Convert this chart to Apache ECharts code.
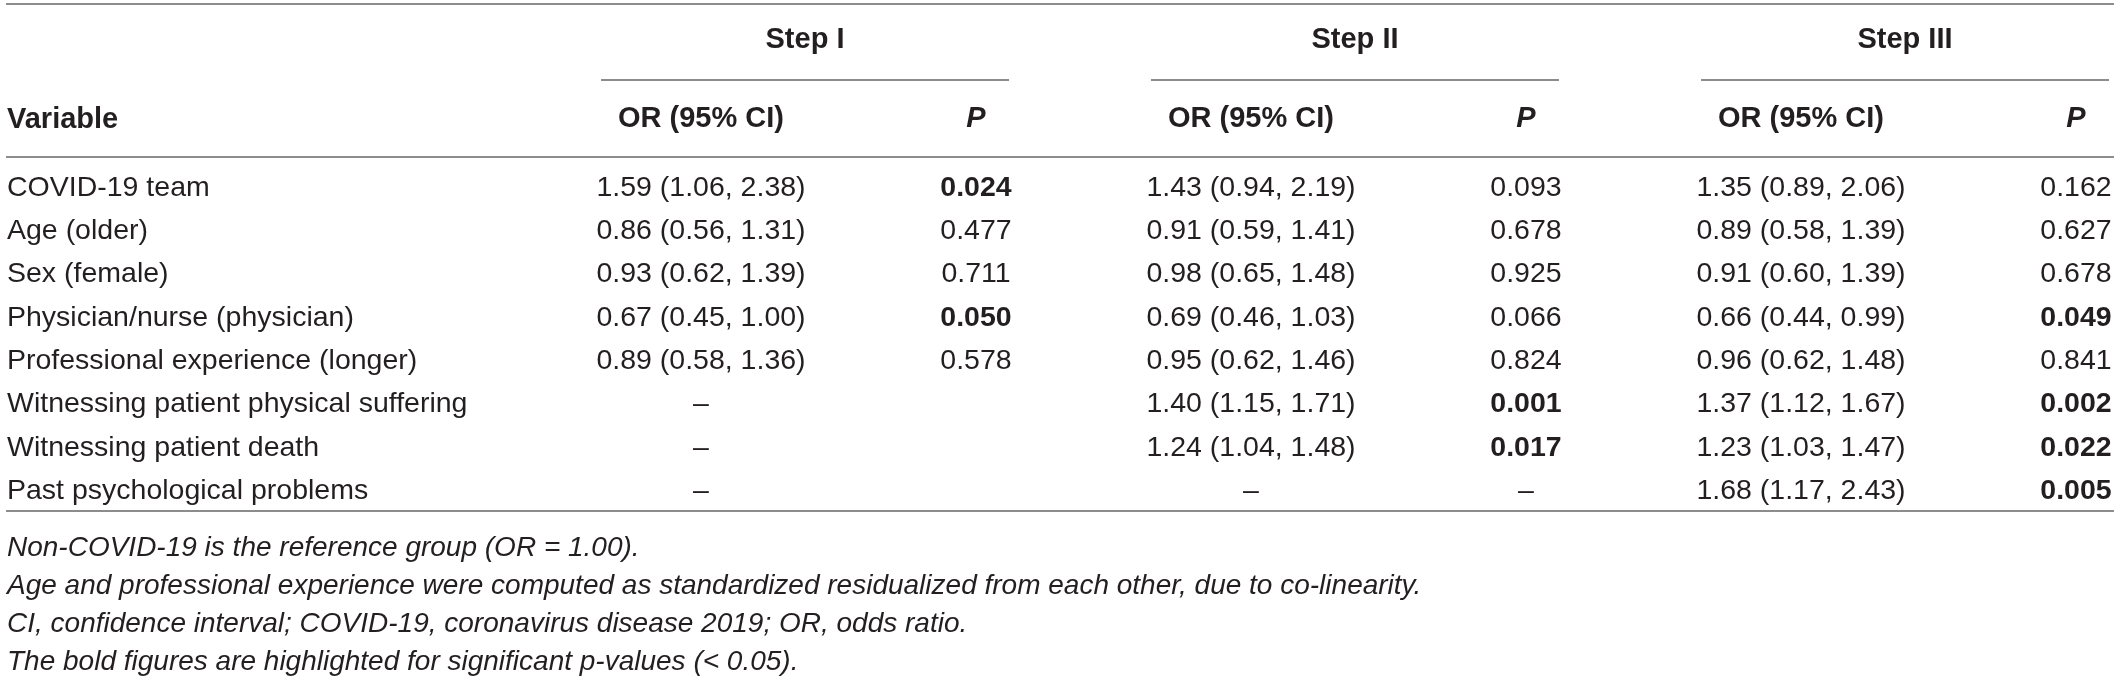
<!DOCTYPE html>
<html>
<head>
<meta charset="utf-8">
<script src="https://cdn.jsdelivr.net/npm/echarts@6/dist/echarts.min.js"></script>
<style>
  html, body { margin: 0; padding: 0; background: #fff; }
  #chart { width: 2120px; height: 682px; }
</style>
</head>
<body>
<div id="chart"></div>
<script>
  // table content
  var variables = ['COVID-19 team', 'Age (older)', 'Sex (female)', 'Physician/nurse (physician)',
    'Professional experience (longer)', 'Witnessing patient physical suffering',
    'Witnessing patient death', 'Past psychological problems'];
  var steps = ['Step I', 'Step II', 'Step III'];
  var colHeads = ['OR (95% CI)', 'P', 'OR (95% CI)', 'P', 'OR (95% CI)', 'P'];
  var step1OR = ['1.59 (1.06, 2.38)', '0.86 (0.56, 1.31)', '0.93 (0.62, 1.39)', '0.67 (0.45, 1.00)', '0.89 (0.58, 1.36)', '–', '–', '–'];
  var step1P = ['0.024', '0.477', '0.711', '0.050', '0.578', '', '', ''];
  var step2OR = ['1.43 (0.94, 2.19)', '0.91 (0.59, 1.41)', '0.98 (0.65, 1.48)', '0.69 (0.46, 1.03)', '0.95 (0.62, 1.46)', '1.40 (1.15, 1.71)', '1.24 (1.04, 1.48)', '–'];
  var step2P = ['0.093', '0.678', '0.925', '0.066', '0.824', '0.001', '0.017', '–'];
  var step3OR = ['1.35 (0.89, 2.06)', '0.89 (0.58, 1.39)', '0.91 (0.60, 1.39)', '0.66 (0.44, 0.99)', '0.96 (0.62, 1.48)', '1.37 (1.12, 1.67)', '1.23 (1.03, 1.47)', '1.68 (1.17, 2.43)'];
  var step3P = ['0.162', '0.627', '0.678', '0.049', '0.841', '0.002', '0.022', '0.005'];
  var footnotes = [
    'Non-COVID-19 is the reference group (OR = 1.00).',
    'Age and professional experience were computed as standardized residualized from each other, due to co-linearity.',
    'CI, confidence interval; COVID-19, coronavirus disease 2019; OR, odds ratio.',
    'The bold figures are highlighted for significant p-values (< 0.05).'
  ];

  var FONT = '"Liberation Sans", Arial, Helvetica, sans-serif';
  var INK = '#231f20';
  var RULE = '#8c8c8c';
  var FS = 28.5;      // body text
  var FS_HEAD = 29;   // bold headers
  var FS_NOTE = 28;   // italic notes

  // layout: first value column centre and column pitch
  var GRID_LEFT = 701, COL_W = 275;
  var GRID_TOP = 166, GRID_H = 347;

  // one cell per (column, row); p-values up to 0.05 are shown bold
  var columns = [step1OR, step1P, step2OR, step2P, step3OR, step3P];
  var cells = [];
  for (var c = 0; c < columns.length; c++) {
    for (var r = 0; r < variables.length; r++) {
      var t = columns[c][r];
      if (t === '') continue;
      var isP = c % 2 == 1;
      var bold = isP && !isNaN(parseFloat(t)) && parseFloat(t) <= 0.05;
      cells.push({ value: [c, r], text: t, bold: bold });
    }
  }

  var myChart = echarts.init(document.getElementById('chart'));

  var option = {
    backgroundColor: '#fff',
    animation: false,
    textStyle: { fontFamily: FONT },
    grid: { left: GRID_LEFT, top: GRID_TOP, right: 0, height: GRID_H },
    xAxis: {
      type: 'value',
      position: 'top',
      min: 0,
      max: (2120 - GRID_LEFT) / COL_W,
      interval: 1,
      axisLine: { show: false },
      axisTick: { show: false },
      splitLine: { show: false },
      axisLabel: {
        margin: 33,
        showMaxLabel: false,
        formatter: function (v) {
          if (v !== Math.round(v) || !colHeads[v]) return '';
          return colHeads[v] === 'P' ? '{bi|P}' : '{b|' + colHeads[v] + '}';
        },
        rich: {
          b: { fontFamily: FONT, fontSize: FS_HEAD, fontWeight: 'bold', color: INK },
          bi: { fontFamily: FONT, fontSize: FS_HEAD, fontWeight: 'bold', fontStyle: 'italic', color: INK }
        }
      }
    },
    yAxis: {
      type: 'category',
      inverse: true,
      data: variables,
      axisLine: { show: false },
      axisTick: { show: false },
      splitLine: { show: false },
      axisLabel: {
        interval: 0,
        align: 'left',
        margin: GRID_LEFT - 7,
        fontFamily: FONT,
        fontSize: FS,
        color: INK
      }
    },
    series: [{
      type: 'custom',
      data: cells,
      renderItem: function (params, api) {
        var pt = api.coord([api.value(0), api.value(1)]);
        var cell = cells[params.dataIndex];
        return {
          type: 'text',
          x: pt[0],
          y: pt[1],
          style: {
            text: cell.text,
            align: 'center',
            verticalAlign: 'middle',
            fontFamily: FONT,
            fontSize: FS,
            fontWeight: cell.bold ? 'bold' : 'normal',
            fill: INK
          }
        };
      }
    }]
  };

  myChart.setOption(option);

  // rules, step headers and notes placed from the axis scale
  var gridBottom = GRID_TOP + GRID_H;
  var graphic = [];
  function hline(x1, x2, y) {
    graphic.push({ type: 'line', silent: true,
      shape: { x1: x1, y1: y, x2: x2, y2: y },
      style: { stroke: RULE, lineWidth: 2 } });
  }
  hline(6, 2114, 4);
  hline(6, 2114, GRID_TOP - 9);
  hline(6, 2114, gridBottom - 2);

  for (var s = 0; s < steps.length; s++) {
    var xOR = myChart.convertToPixel({ xAxisIndex: 0 }, s * 2);
    var xP = myChart.convertToPixel({ xAxisIndex: 0 }, s * 2 + 1);
    var a = xOR - 100, b = Math.min(xP + 33, 2114);
    hline(a, b, 80);
    graphic.push({ type: 'text', silent: true, x: (a + b) / 2, y: 40,
      style: { text: steps[s], align: 'center', verticalAlign: 'middle',
        fontFamily: FONT, fontSize: FS_HEAD, fontWeight: 'bold', fill: INK } });
  }

  graphic.push({ type: 'text', silent: true, x: 7, y: 120,
    style: { text: 'Variable', align: 'left', verticalAlign: 'middle',
      fontFamily: FONT, fontSize: FS_HEAD, fontWeight: 'bold', fill: INK } });

  for (var i = 0; i < footnotes.length; i++) {
    graphic.push({ type: 'text', silent: true, x: 7, y: 548 + 38 * i,
      style: { text: footnotes[i], align: 'left', verticalAlign: 'middle',
        fontFamily: FONT, fontSize: FS_NOTE, fontStyle: 'italic', fill: INK } });
  }

  myChart.setOption({ graphic: graphic });
</script>
</body>
</html>
